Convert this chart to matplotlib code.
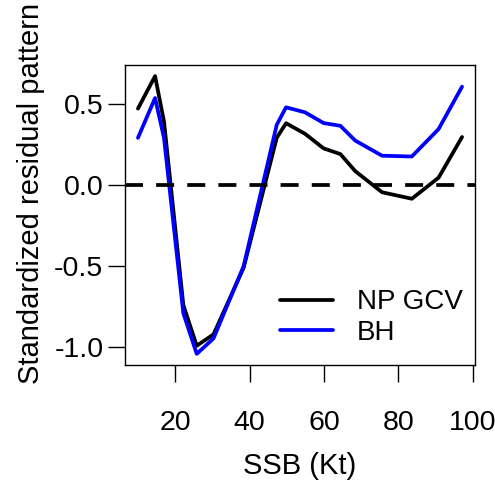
import matplotlib
matplotlib.use("Agg")
import matplotlib.pyplot as plt

plt.rcParams['font.family'] = ['Liberation Sans', 'DejaVu Sans']

# SSB values (Kt) and standardized residual patterns
ssb = [10.0, 14.6, 17.0, 22.2, 25.8, 30.3, 38.4, 47.3, 49.8, 54.9,
       59.9, 64.4, 68.4, 75.6, 83.6, 90.8, 97.1]
np_gcv = [0.47, 0.67, 0.39, -0.74, -0.99, -0.92, -0.51, 0.29, 0.38, 0.315,
          0.225, 0.19, 0.085, -0.045, -0.085, 0.045, 0.295]
bh = [0.29, 0.535, 0.29, -0.79, -1.04, -0.945, -0.50, 0.37, 0.478, 0.447,
      0.381, 0.364, 0.273, 0.18, 0.175, 0.344, 0.605]

xticks = [20, 40, 60, 80, 100]
yticks = [-1.0, -0.5, 0.0, 0.5]

fig = plt.figure(figsize=(4.95, 4.84), dpi=100)
ax = fig.add_axes([0.2525, 0.2459, 0.7071, 0.6198])

lw = 2.7
ax.plot(ssb, np_gcv, color='black', linewidth=lw, label='NP GCV',
        solid_joinstyle='round', solid_capstyle='round')
ax.plot(ssb, bh, color='blue', linewidth=lw, label='BH',
        solid_joinstyle='round', solid_capstyle='round')
ax.axhline(0, color='black', linewidth=lw, linestyle=(0, (4.8, 3.5)))

# R-style 4% padding around the data range
xmin, xmax = min(ssb), max(ssb)
ymin, ymax = min(np_gcv + bh), max(np_gcv + bh)
px = (xmax - xmin) * 0.04
py = (ymax - ymin) * 0.04
ax.set_xlim(xmin - px, xmax + px)
ax.set_ylim(ymin - py, ymax + py)

ax.set_xticks(xticks)
ax.set_xticklabels([str(t) for t in xticks])
ax.set_yticks(yticks)
ax.set_yticklabels(['%.1f' % t for t in yticks])
ax.tick_params(direction='out', length=12.5, width=1, labelsize=20.5, pad=20)
ax.tick_params(axis='y', pad=3)
for s in ax.spines.values():
    s.set_linewidth(1)

ax.set_xlabel('SSB (Kt)', fontsize=21)
ax.set_ylabel('Standardized residual pattern', fontsize=21)
ax.xaxis.set_label_coords(0.5, -0.29)
ax.yaxis.set_label_coords(-0.229, 0.573)

ax.legend(loc='lower right', frameon=False, fontsize=20, handlelength=1.9,
          handletextpad=0.85, labelspacing=0.15, borderaxespad=0.3,
          bbox_to_anchor=(1.02, 0.0))

fig.savefig('out.png', dpi=100)
